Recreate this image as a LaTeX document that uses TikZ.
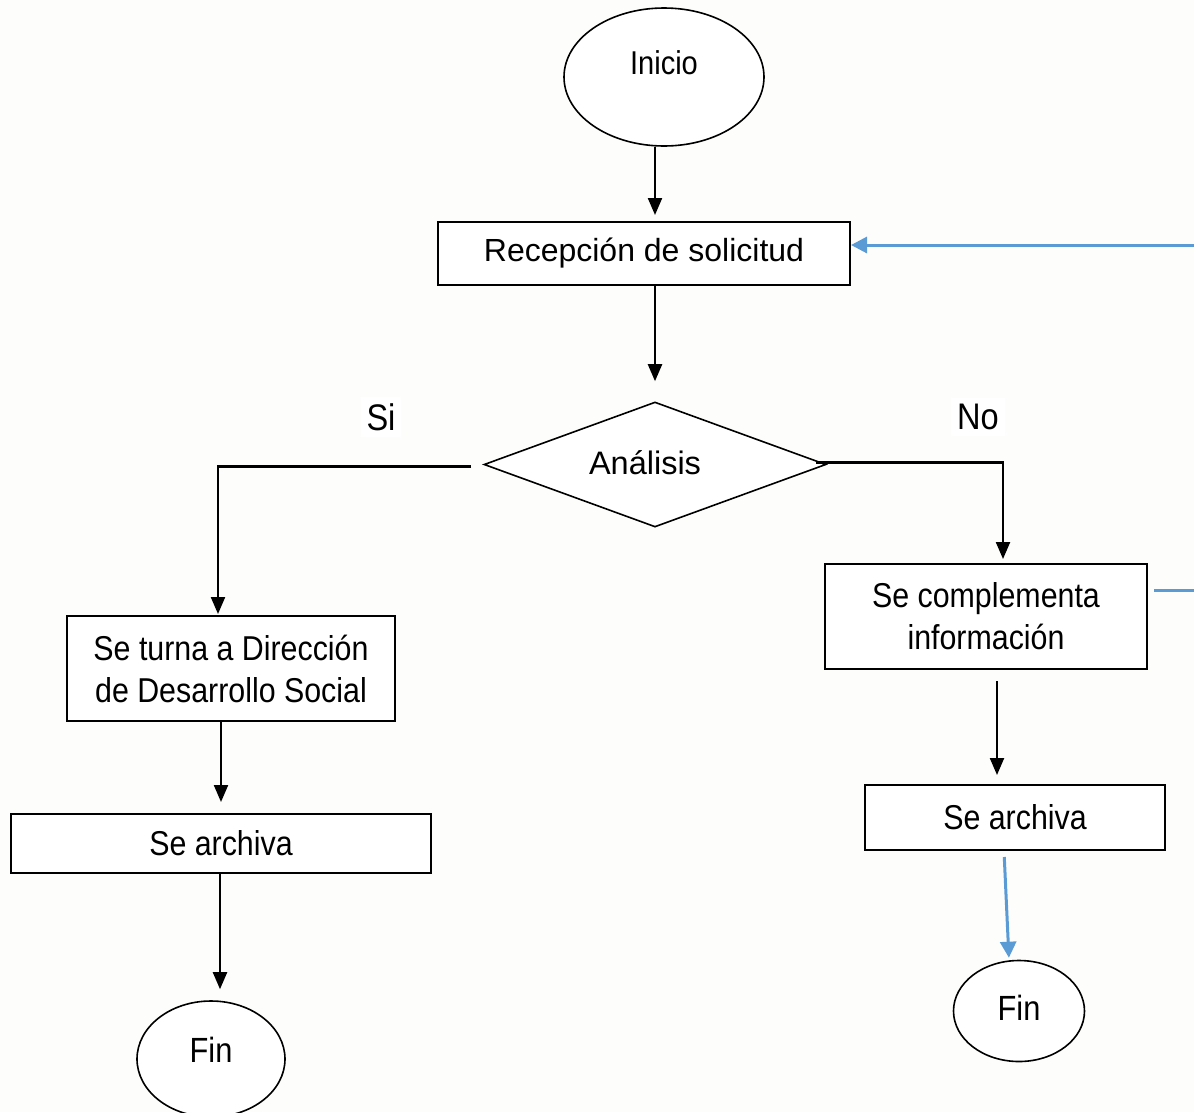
\documentclass[tikz,border=0pt]{standalone}
\usepackage{fontspec}
\setmainfont{Liberation Sans}
\newfontfamily\arialn[FakeStretch=0.88]{Liberation Sans}
\usetikzlibrary{shapes.geometric,arrows.meta}
\definecolor{officeblue}{RGB}{91,155,213}
\definecolor{pagebg}{RGB}{253,253,251}
\tikzset{
  boxnode/.style={draw=black,line width=2pt,fill=white,inner sep=0pt,align=center},
  termnode/.style={ellipse,draw=black,line width=1.6pt,fill=white,inner sep=0pt},
  decnode/.style={diamond,draw=black,line width=1.6pt,fill=white,inner sep=0pt},
  regtext/.style={font=\fontsize{32}{40}\selectfont},
  nartext/.style={font=\arialn\fontsize{34.5}{42}\selectfont},
  lbltext/.style={font=\arialn\fontsize{37}{44}\selectfont,fill=white,inner sep=6pt},
  flowarrow/.style={draw=black,line width=2.2pt,-{Triangle[width=14pt,length=17pt]}},
  bluearrow/.style={draw=officeblue,line width=3pt,-{Triangle[width=16pt,length=16pt]}},
  blueline/.style={draw=officeblue,line width=3pt}
}
\begin{document}
\begin{tikzpicture}[x=1pt,y=-1pt]
\useasboundingbox (0,0) rectangle (1194,1112);
\fill[pagebg] (0,0) rectangle (1194,1112);

% nodes
\node[termnode,minimum width=200pt,minimum height=138pt,
  label={[font=\arialn\fontsize{33}{40}\selectfont,yshift=14pt]center:Inicio}] (ini) at (664,77) {};
\node[boxnode,regtext,minimum width=412pt,minimum height=63pt] (rec) at (644,253.5) {Recepción de solicitud};
\node[decnode,minimum width=342pt,minimum height=125pt,
  label={[font=\fontsize{32.5}{40}\selectfont,xshift=-10pt,yshift=2pt]center:Análisis}] (dia) at (655,464.5) {};
\node[lbltext] (si) at (381,417) {Si};
\node[lbltext] (no) at (978,417) {No};
\node[boxnode,nartext,minimum width=328pt,minimum height=105pt] (turn) at (231,668.5) {Se turna a Dirección\\de Desarrollo Social};
\node[boxnode,nartext,minimum width=420pt,minimum height=59pt] (archL) at (221,843.5) {Se archiva};
\node[termnode,minimum width=148pt,minimum height=116pt,
  label={[font=\arialn\fontsize{35}{42}\selectfont,yshift=9pt]center:Fin}] (finL) at (211,1059) {};
\node[boxnode,nartext,minimum width=322pt,minimum height=105pt] (comp) at (986,616.5) {Se complementa\\información};
\node[boxnode,nartext,minimum width=300pt,minimum height=65pt] (archR) at (1015,817.5) {Se archiva};
\node[termnode,minimum width=131pt,minimum height=101pt,
  label={[font=\arialn\fontsize{35}{42}\selectfont,yshift=3pt]center:Fin}] (finR) at (1019,1011) {};

% black connectors
\draw[flowarrow,shorten >=6pt] ([xshift=-9pt]ini.south) -- ([xshift=-9pt]ini.south |- rec.north);
\draw[flowarrow,shorten >=20pt] (rec.south -| dia.north) -- (dia.north);
\draw[flowarrow,shorten >=1pt] ([xshift=-12pt,yshift=-2pt]dia.west) -| ([xshift=-13pt]turn.north);
\draw[flowarrow,shorten >=4pt] ([xshift=-11pt,yshift=2pt]dia.east) -| ([xshift=17pt]comp.north);
\draw[flowarrow,shorten >=11pt] (archL.north |- turn.south) -- (archL.north);
\draw[flowarrow,shorten >=11pt] ([xshift=9pt]finL.north |- archL.south) -- ([xshift=9pt]finL.north);
\draw[flowarrow,shorten <=11pt,shorten >=9pt] ([xshift=11pt]comp.south) -- ([xshift=11pt]comp.south |- archR.north);

% blue connectors
\coordinate (rin) at (1194,245);
\draw[bluearrow] (rin) -- (rin -| rec.east);
\coordinate (cout) at (1194,590);
\draw[blueline] ([xshift=6pt]cout -| comp.east) -- (cout);
\draw[bluearrow,shorten <=6pt,shorten >=2pt] ([xshift=-11pt]archR.south) -- ([xshift=-10pt]finR.north);
\end{tikzpicture}
\end{document}
